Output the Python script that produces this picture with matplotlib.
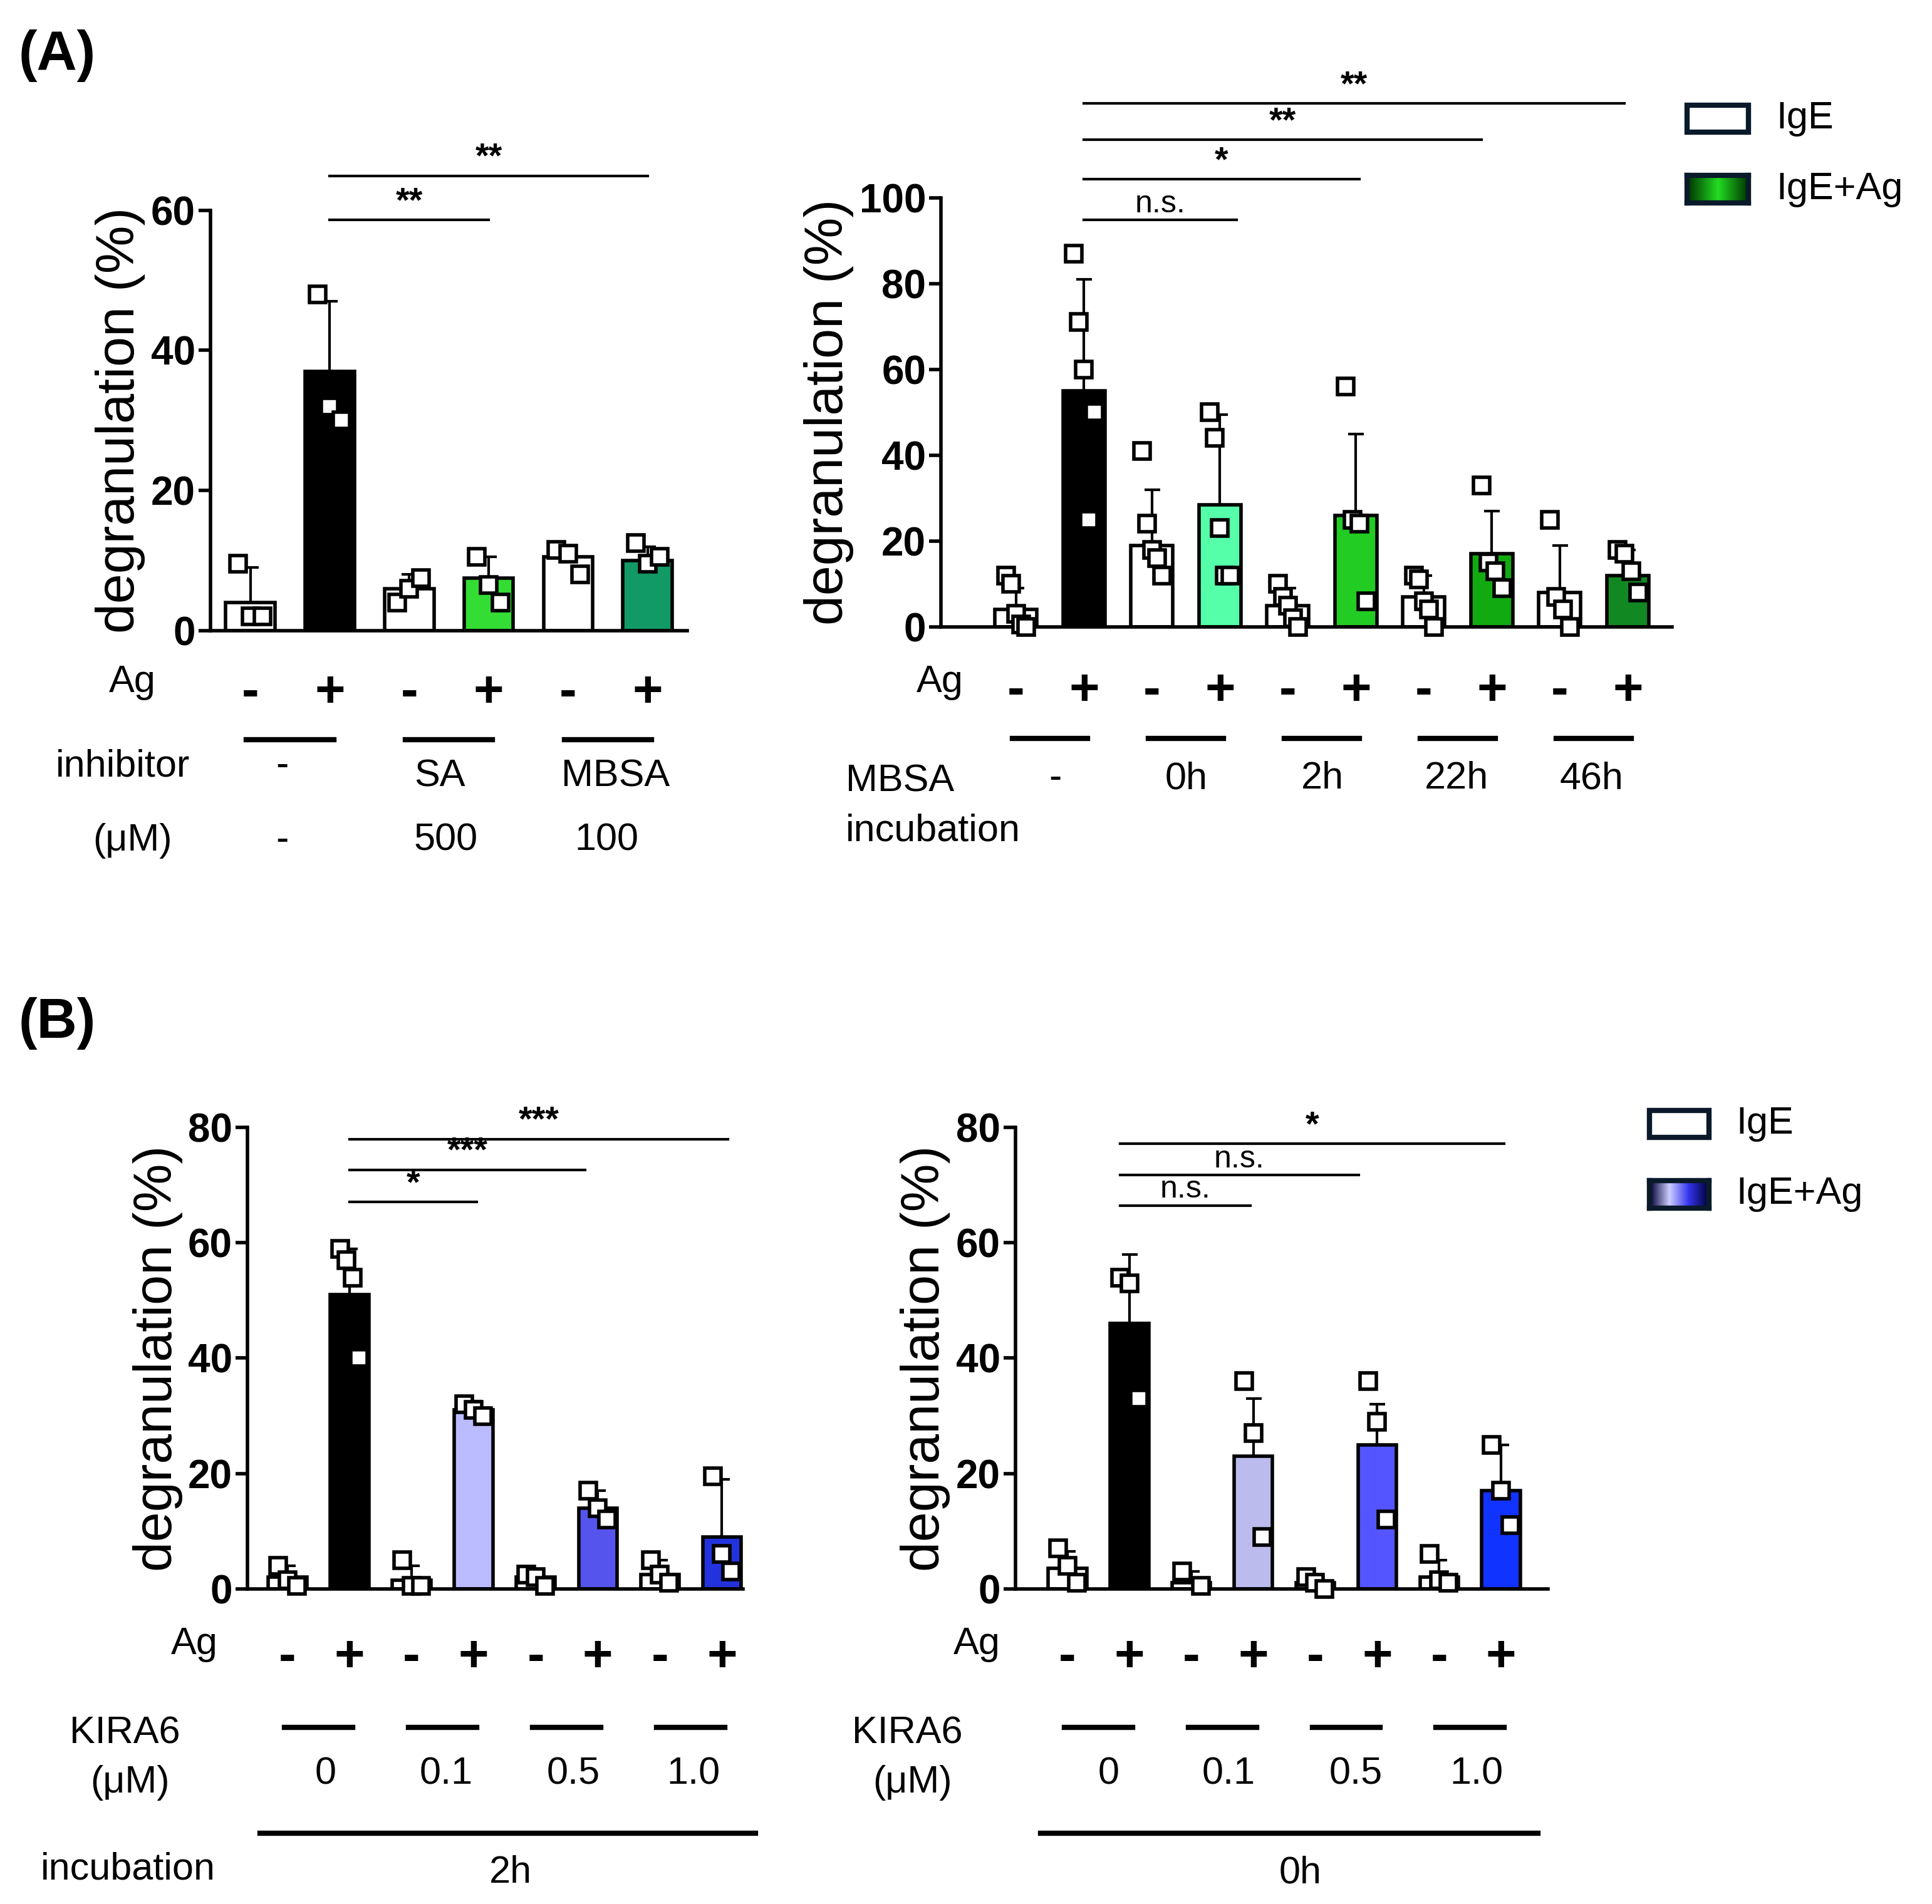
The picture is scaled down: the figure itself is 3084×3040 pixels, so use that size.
import numpy as np
import matplotlib
matplotlib.use("Agg")
import matplotlib.pyplot as plt
import matplotlib.transforms as mtransforms
from matplotlib.patches import Rectangle
from matplotlib.colors import LinearSegmentedColormap

plt.rcParams['font.family'] = ['Liberation Sans', 'DejaVu Sans']

W, H = 1560.0, 1540.0  # layout grid (reference at half scale)

# ---------------- data ----------------
a1_mean = [4, 37, 6, 7.5, 10.5, 10]
a1_sd = [5, 10, 2, 3, 1, 2]
a1_pts = [[9.5, 2, 2], [48, 32, 30], [4, 6, 7.5], [10.5, 6.5, 4], [11.5, 11, 8], [12.5, 9.5, 10.5]]
a1_col = ['white', 'black', 'white', '#33dd33', 'white', '#119966']

a2_mean = [4, 55, 19, 28.5, 5, 26, 7, 17, 8, 12]
a2_sd = [5, 26, 13, 21, 4, 19, 5, 10, 11, 6]
a2_pts = [[12, 10, 3, 0.5, 0], [87, 71, 60, 25, 50], [41, 24, 18, 16, 12], [50, 44, 23, 12, 12],
          [10, 7, 5, 2, 0], [56, 25, 24, 6], [12, 11, 6, 4, 0], [33, 15, 13, 9],
          [25, 7, 4, 0], [18, 17, 13, 8]]
a2_col = ['white', 'black', 'white', '#55ffaa', 'white', '#22cc22', 'white', '#11aa11', 'white', '#118822']

b1_mean = [2, 51, 1.5, 31, 2, 14, 2.5, 9]
b1_sd = [2, 8, 2.5, 1.5, 1, 3, 2.5, 10]
b1_pts = [[4, 1.5, 0.5], [59, 57, 54, 40], [5, 0.5, 0.5], [32, 31, 30], [2.5, 2, 0.5],
          [17, 14, 12], [5, 2.5, 1], [19.5, 6, 3]]
b1_col = ['white', 'black', 'white', '#bbbbff', 'white', '#5555ee', 'white', '#2233dd']

b2_mean = [3.5, 46, 1, 23, 1, 25, 2, 17]
b2_sd = [3, 12, 2, 10, 1.5, 7, 3, 8]
b2_pts = [[7, 4, 1], [54, 53, 33], [3, 0.5], [36, 27, 9], [2, 1, 0], [36, 29, 12],
          [6, 1.5, 1], [25, 17, 11]]
b2_col = ['white', 'black', 'white', '#bbbbee', 'white', '#5555ff', 'white', '#1133ff']

a1_sig = [(1, 3.0, 58.6, '**'), (1, 5.0, 64.9, '**')]
a2_sig = [(1, 3.25, 94.8, 'n.s.'), (1, 5.05, 104.3, '*'), (1, 6.85, 113.5, '**'), (1, 8.95, 122, '**')]
b1_sig = [(1, 3.05, 67.1, '*'), (1, 4.8, 72.7, '***'), (1, 7.1, 78, '***')]
b2_sig = [(0.85, 2.95, 66.5, 'n.s.'), (0.85, 4.7, 71.8, 'n.s.'), (0.85, 7.05, 77.2, '*')]

fig = plt.figure(figsize=(30.84, 30.40), dpi=100)


def T(x, y, s, **kw):
    kw.setdefault('fontsize', 44)
    fig.text(x / W, 1 - y / H, s, **kw)


def panel(rect, xlim, ymax, yticks, means, sds, pts, cols, sigs):
    l, t, r, b = rect
    ax = fig.add_axes([l / W, 1 - b / H, (r - l) / W, (b - t) / H])
    x = np.arange(len(means))
    ax.bar(x, means, width=0.62, color=cols, edgecolor='black', linewidth=4, zorder=2)
    ax.errorbar(x, means, yerr=[np.zeros(len(sds)), sds], fmt='none', ecolor='black',
                elinewidth=3, capsize=9, capthick=3, zorder=1)
    for i, p in enumerate(pts):
        off = np.linspace(-0.15, 0.15, len(p)) if len(p) > 1 else [0]
        ax.plot(x[i] + np.array(off), p, 's', ms=19, mfc='white', mec='black', mew=4,
                zorder=3, clip_on=False)
    ax.set_xlim(*xlim)
    ax.set_ylim(0, ymax)
    ax.set_yticks(yticks)
    ax.set_xticks([])
    for s in ['top', 'right']:
        ax.spines[s].set_visible(False)
    for s in ['left', 'bottom']:
        ax.spines[s].set_linewidth(4)
    ax.tick_params(axis='y', width=4, length=14, labelsize=46)
    for lab in ax.get_yticklabels():
        lab.set_fontweight('bold')
    ax.set_ylabel('degranulation (%)', fontsize=62, labelpad=6)
    for x0, x1, y, s in sigs:
        ax.plot([x0, x1], [y, y], color='black', lw=3, clip_on=False)
        ax.text((x0 + x1) / 2, y + ymax * 0.003, s, ha='center', va='bottom',
                fontsize=40 if '*' in s else 36, fontweight='bold' if '*' in s else 'normal')
    tr = mtransforms.blended_transform_factory(ax.transData, ax.transAxes)
    for i in x:
        ax.text(i, -0.15, '-' if i % 2 == 0 else '+', transform=tr, ha='center', va='center',
                fontsize=60, fontweight='bold')
    return ax, tr


def group_bars(ax, tr, n, yax):
    for g in range(n):
        ax.plot([2 * g - 0.05, 2 * g + 1.05], [yax, yax], color='black', lw=6, transform=tr,
                clip_on=False)


ax, tr = panel((170, 170, 555, 510), (-0.5, 5.5), 60, [0, 20, 40, 60],
               a1_mean, a1_sd, a1_pts, a1_col, a1_sig)
group_bars(ax, tr, 3, -0.26)
ax, tr = panel((760, 160, 1350, 507), (-1.1, 9.65), 100, [0, 20, 40, 60, 80, 100],
               a2_mean, a2_sd, a2_pts, a2_col, a2_sig)
group_bars(ax, tr, 5, -0.26)
ax, tr = panel((200, 912, 600, 1285), (-0.64, 7.34), 80, [0, 20, 40, 60, 80],
               b1_mean, b1_sd, b1_pts, b1_col, b1_sig)
group_bars(ax, tr, 4, -0.3)
ax, tr = panel((820, 912, 1250, 1285), (-0.84, 7.76), 80, [0, 20, 40, 60, 80],
               b2_mean, b2_sd, b2_pts, b2_col, b2_sig)
group_bars(ax, tr, 4, -0.3)

# panel letters
T(15, 45, '(A)', fontsize=64, fontweight='bold', va='center')
T(15, 828, '(B)', fontsize=64, fontweight='bold', va='center')

# labels under panels
T(88, 552, 'Ag', va='center')
T(45, 620, 'inhibitor', va='center')
T(75, 680, '(μM)', va='center')
T(228, 620, '-', ha='center', va='center')
T(228, 680, '-', ha='center', va='center')
T(355, 628, 'SA', ha='center', va='center')
T(360, 680, '500', ha='center', va='center')
T(497, 628, 'MBSA', ha='center', va='center')
T(490, 680, '100', ha='center', va='center')

T(740, 552, 'Ag', va='center')
T(683, 632, 'MBSA', va='center')
T(683, 672, 'incubation', va='center')
for xx, s in [(852, '-'), (958, '0h'), (1068, '2h'), (1176, '22h'), (1285, '46h')]:
    T(xx, 630, s, ha='center', va='center')

for lx in [138, 770]:
    T(lx, 1330, 'Ag', va='center')
    T(lx - 82, 1402, 'KIRA6', va='center')
    T(lx - 65, 1442, '(μM)', va='center')
for xx, s in zip([263, 360, 463, 560], ['0', '0.1', '0.5', '1.0']):
    T(xx, 1435, s, ha='center', va='center')
for xx, s in zip([895, 992, 1095, 1192], ['0', '0.1', '0.5', '1.0']):
    T(xx, 1435, s, ha='center', va='center')
T(33, 1512, 'incubation', va='center')
fig.add_artist(plt.Line2D([210 / W, 610 / W], [1 - 1483 / H] * 2, color='black', lw=6))
fig.add_artist(plt.Line2D([840 / W, 1242 / W], [1 - 1483 / H] * 2, color='black', lw=6))
T(412, 1515, '2h', ha='center', va='center')
T(1050, 1515, '0h', ha='center', va='center')


def legend(x, y0, y1, cmap_cols, w=50, h=22):
    fig.add_artist(Rectangle((x / W, 1 - (y0 + h) / H), w / W, h / H, facecolor='white',
                             edgecolor='#0a1a2a', lw=6))
    lax = fig.add_axes([x / W, 1 - (y1 + h) / H, w / W, h / H])
    cm = LinearSegmentedColormap.from_list('g', cmap_cols)
    lax.imshow(np.linspace(0, 1, 100)[None, :], aspect='auto', cmap=cm)
    lax.set_xticks([])
    lax.set_yticks([])
    for s in lax.spines.values():
        s.set_linewidth(6)
        s.set_edgecolor('#0a1a2a')
    T(x + w + 22, y0 + h / 2, 'IgE', va='center', fontsize=44)
    T(x + w + 22, y1 + h / 2, 'IgE+Ag', va='center', fontsize=44)


legend(1362, 85, 142, ['#003300', '#22dd22', '#003300'])
legend(1332, 898, 955, ['#000033', '#ccccff', '#3333ee', '#000033'], w=48)

fig.savefig('out.png', dpi=100)
